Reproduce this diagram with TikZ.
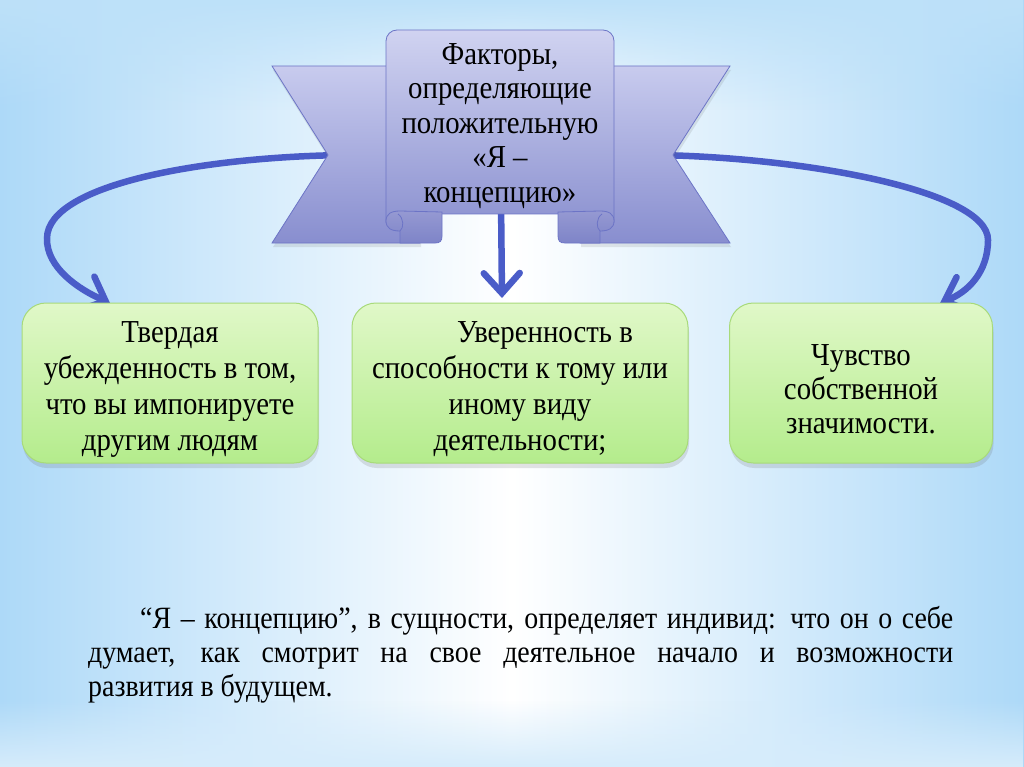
\documentclass[tikz,border=0pt]{standalone}
\usepackage{fontspec}
\setmainfont{Liberation Serif}
\newfontfamily\lserif{Liberation Serif}[FakeStretch=0.9]
\usetikzlibrary{arrows.meta,shadows,fadings}
\definecolor{bgblue}{HTML}{ADD9F8}
\definecolor{ribtop}{HTML}{C8CBEE}
\definecolor{ribbot}{HTML}{888ECF}
\definecolor{ribline}{HTML}{6C74C6}
\definecolor{foldtop}{HTML}{9599D2}
\definecolor{foldbot}{HTML}{7E84C8}
\definecolor{gtop}{HTML}{E0F8C8}
\definecolor{gbot}{HTML}{B4EC8C}
\definecolor{gline}{HTML}{A8DA7A}
\definecolor{arrowblue}{HTML}{4A5CC8}
\tikzfading[name=fadedown, top color=transparent!0, bottom color=transparent!100]
\tikzfading[name=fadeup, top color=transparent!100, bottom color=transparent!0]
\tikzfading[name=fadeband, top color=transparent!100, middle color=transparent!30, bottom color=transparent!100]
\begin{document}
\begin{tikzpicture}[x=1pt,y=-1pt,
  gbox/.style={draw=gline, line width=1pt, rounded corners=24pt, top color=gtop, bottom color=gbot,
    minimum height=160pt, inner sep=0pt,
    drop shadow={shadow xshift=1pt, shadow yshift=-5pt, opacity=0.18, fill=black!60}},
  btxt/.style={align=center, inner sep=0pt, font=\lserif\fontsize{32}{36}\selectfont},
  rib/.style={draw=ribline, line width=0.8pt, top color=ribtop, bottom color=ribbot},
  fold/.style={draw=ribline, line width=0.8pt, top color=foldtop, bottom color=foldbot},
  conn/.style={draw=arrowblue, line width=6.5pt, line cap=round,
    -{Straight Barb[length=20pt,width=36pt,line cap=round]}},
  txt/.style={inner sep=0pt}]
\useasboundingbox (0,0) rectangle (1024,767);
% background
\shade[left color=bgblue, right color=bgblue, middle color=white] (0,0) rectangle (1024,767);
\fill[bgblue!80, path fading=fadedown] (0,0) rectangle (1024,110);
\fill[bgblue!60, path fading=fadeband] (0,520) rectangle (1024,610);
\fill[bgblue!50, path fading=fadeup] (0,700) rectangle (1024,767);

% connector anchor coordinates
\coordinate (lstart) at (345,155);
\coordinate (rstart) at (655,155);
\coordinate (mstart) at (501,200);
\coordinate (ltip) at (110,303);
\coordinate (rtip) at (940,303);
\coordinate (mtip) at (502,298);

% connectors (behind ribbon)
\draw[conn] (lstart) .. controls (200,157) and (48,185) .. (47,238) .. controls (46,268) and (80,290) .. (ltip);
\draw[conn] (rstart) .. controls (800,157) and (988,190) .. (988,240) .. controls (988,272) and (968,292) .. (rtip);
\draw[conn] (mstart) -- (mtip);

% ribbon wings
\path[rib, drop shadow={shadow xshift=1pt, shadow yshift=-4pt, opacity=0.15, fill=black!60}]
  (272,66) -- (420,66) -- (420,243) -- (272,243) -- (328,155) -- cycle;
\path[rib, drop shadow={shadow xshift=1pt, shadow yshift=-4pt, opacity=0.15, fill=black!60}]
  (730,66) -- (580,66) -- (580,243) -- (730,243) -- (673,155) -- cycle;
% banner
\path[rib, rounded corners=11pt, top color=ribtop!85!white, bottom color=ribbot!95!white]
  (386,222) -- (386,30) -- (614,30) [sharp corners] -- (614,222) -- (600,214) -- (400,214) -- cycle;
% folds (curled ends)
\path[fold] (442,212) -- (442,236) .. controls (442,241) and (440,243) .. (435,243) -- (400,243)
  -- (400,231) .. controls (391,231) and (386,228) .. (386,221)
  .. controls (386,214) and (391,211) .. (400,211) -- cycle;
\path[fold] (558,212) -- (558,236) .. controls (558,241) and (560,243) .. (565,243) -- (600,243)
  -- (600,231) .. controls (609,231) and (614,228) .. (614,221)
  .. controls (614,214) and (609,211) .. (600,211) -- cycle;
\draw[ribline, line width=0.8pt] (400,231) .. controls (404,228) and (404,218) .. (398,214);
\draw[ribline, line width=0.8pt] (600,231) .. controls (596,228) and (596,218) .. (602,214);

\node[btxt, font=\lserif\fontsize{32}{34.5}\selectfont] (title) at (500,126)
  {Факторы,\\определяющие\\положительную\\«Я –\\концепцию»};

% boxes
\node[gbox, minimum width=296pt] (b1) at (170,383) {};
\node[gbox, minimum width=336pt] (b2) at (520,383) {};
\node[gbox, minimum width=263pt] (b3) at (861,383) {};
\node[btxt] (t1) at (170,389)
  {Твердая\\убежденность в том,\\что вы импонируете\\другим людям};
\node[btxt] (t2) at (520,389)
  {\hspace*{50pt}Уверенность в\\способности к тому или\\иному виду\\деятельности;};
\node[btxt, font=\lserif\fontsize{32}{34}\selectfont] (t3) at (861,389)
  {Чувство\\собственной\\значимости.};

% bottom text
\node[txt, anchor=north west, text width=865pt, align=justify,
  font=\lserif\fontsize{31}{34}\selectfont] (note) at (88,606)
  {\hspace*{52pt}“Я – концепцию”, в сущности, определяет индивид: что он о себе\linebreak
   думает, как смотрит на свое деятельное начало и возможности\linebreak
   развития в будущем.};
\end{tikzpicture}
\end{document}
